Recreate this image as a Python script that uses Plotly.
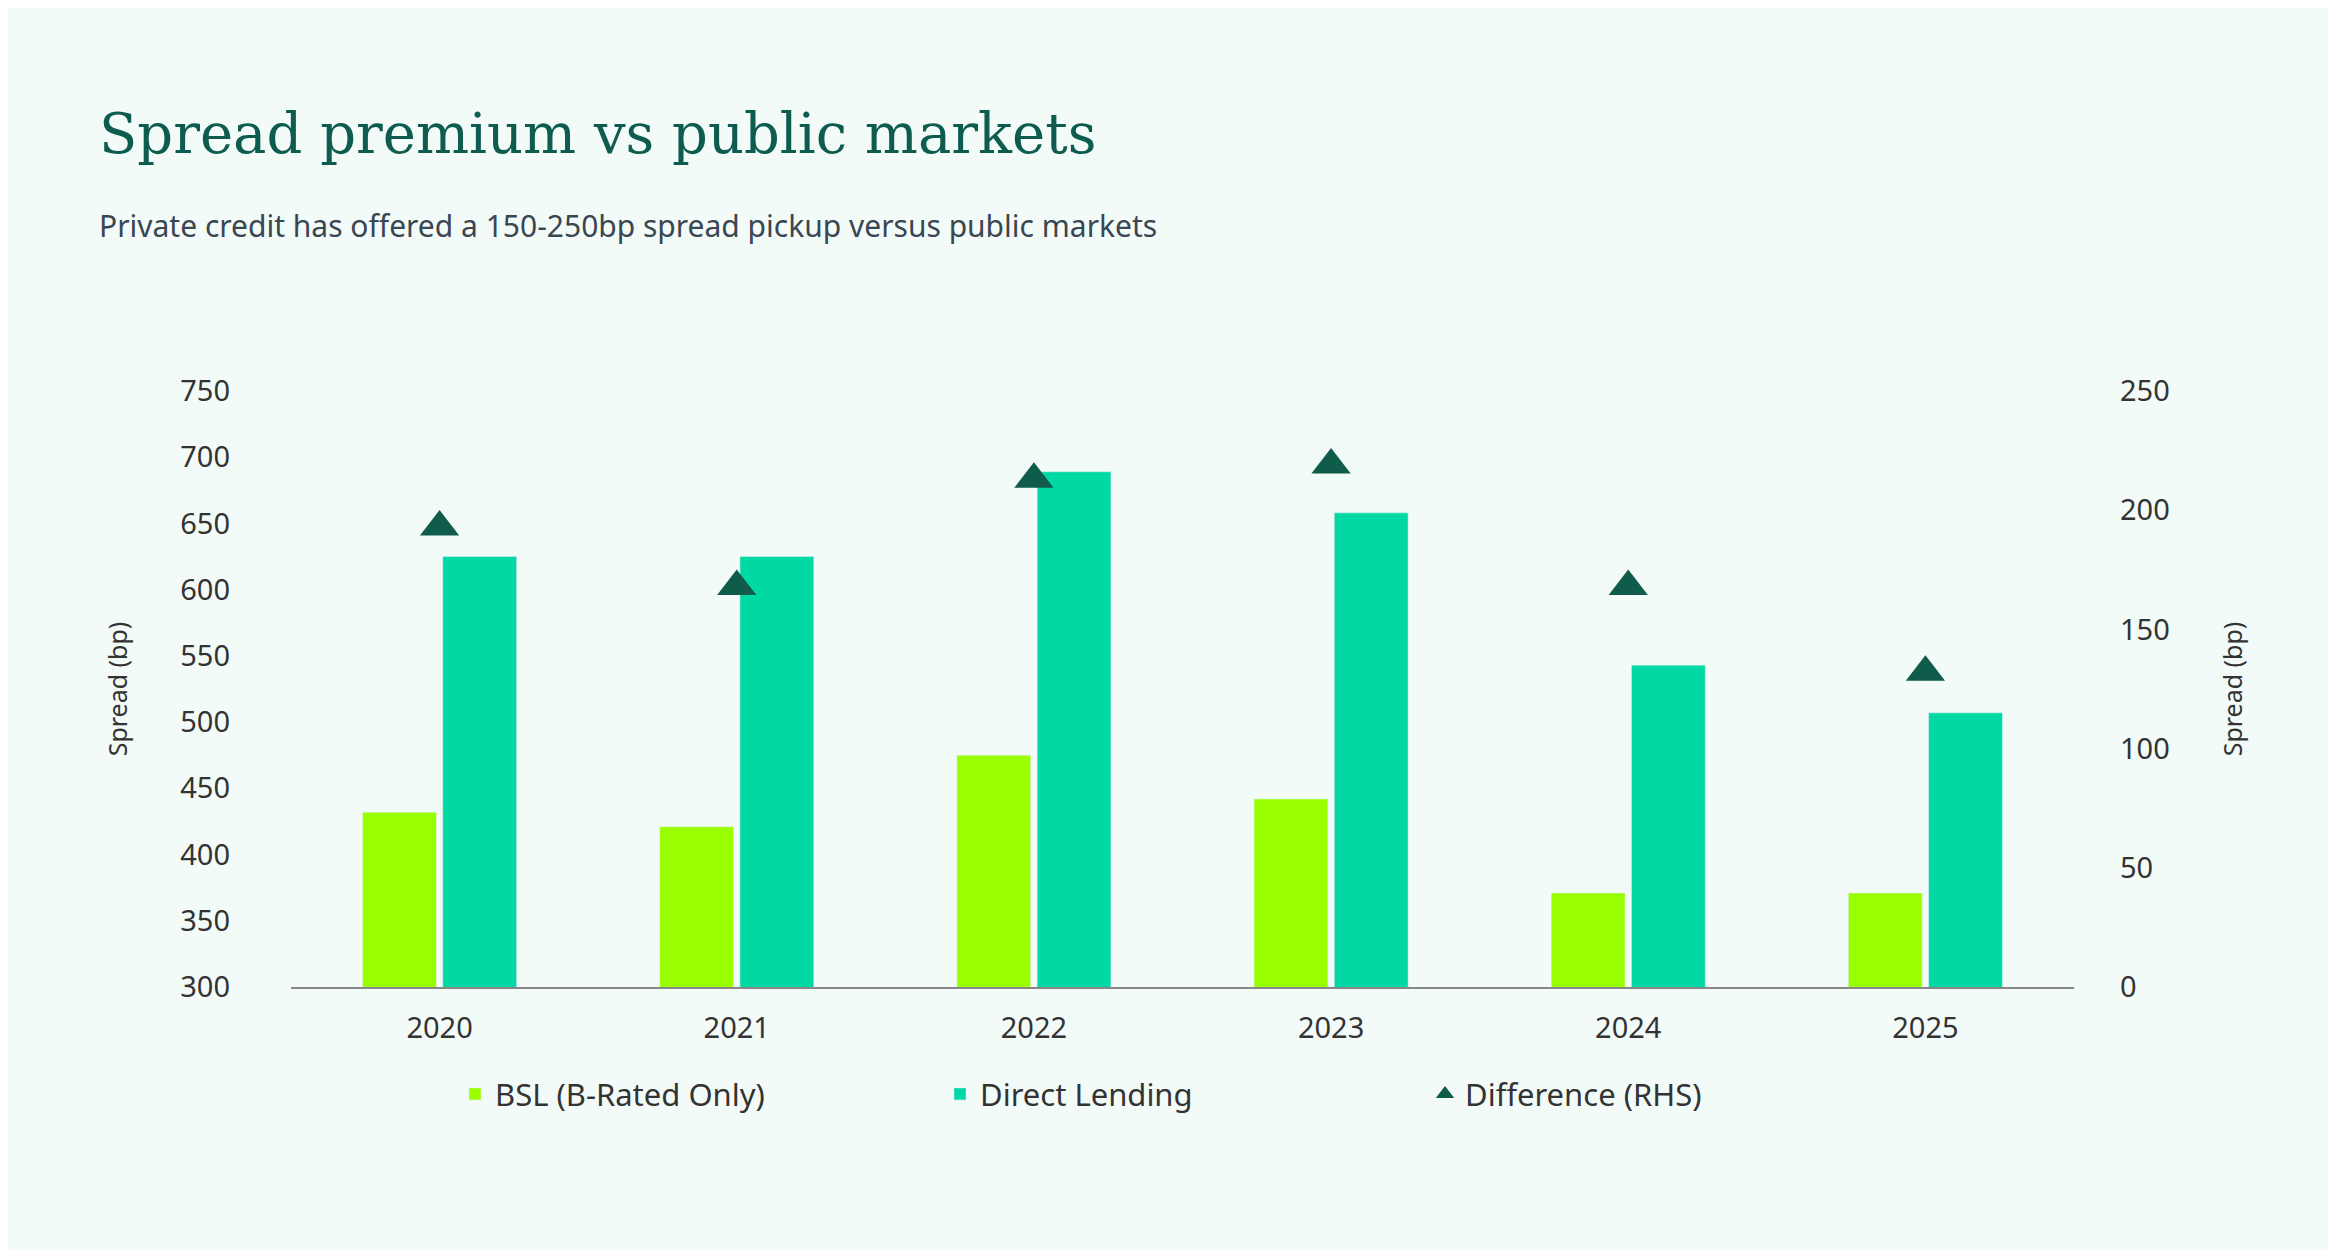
import plotly.graph_objects as go

years = ["2020", "2021", "2022", "2023", "2024", "2025"]
bsl = [432, 421, 475, 442, 371, 371]
direct = [625, 625, 689, 658, 543, 507]
diff = [193, 168, 213, 219, 168, 132]

fig = go.Figure()
fig.add_trace(go.Bar(x=years, y=bsl, name="BSL (B-Rated Only)", marker_color="#99ff00"))
fig.add_trace(go.Bar(x=years, y=direct, name="Direct Lending", marker_color="#00d9a3"))
fig.add_trace(go.Scatter(x=years, y=diff, name="Difference (RHS)", mode="markers", yaxis="y2",
                         marker=dict(symbol="triangle-up", size=34, color="#0f5c4a")))

font = "Noto Sans"
fig.update_layout(
    width=2336, height=1250,
    paper_bgcolor="#f3fbf8", plot_bgcolor="#f3fbf8",
    font=dict(family=font, color="#333", size=28),
    margin=dict(l=283, r=270, t=383, b=271),
    barmode="group", bargap=0.46, bargroupgap=0.08,
    xaxis=dict(showline=True, linecolor="#888", linewidth=2, ticks="", showgrid=False,
               tickfont=dict(size=29), ticklabelstandoff=14),
    yaxis=dict(range=[300, 750], dtick=50, showgrid=False, zeroline=False, tickfont=dict(size=29),
               ticklabelstandoff=60,
               title=dict(text="Spread (bp)", font=dict(size=25), standoff=45)),
    yaxis2=dict(range=[0, 250], dtick=50, overlaying="y", side="right", showgrid=False, zeroline=False,
                tickfont=dict(size=29), ticklabelstandoff=45,
                title=dict(text="Spread (bp)", font=dict(size=25), standoff=55)),
    legend=dict(orientation="h", x=0.5, xanchor="center", y=-0.18, yanchor="middle",
                font=dict(size=31), tracegroupgap=0, entrywidth=440),
    showlegend=True,
)
fig.add_annotation(text="Spread premium vs public markets", xref="paper", yref="paper",
                   x=-0.109, xanchor="left", y=1.0, yanchor="middle", yshift=258, showarrow=False,
                   font=dict(family="DejaVu Serif", size=56, color="#0d5c4f"))
fig.add_annotation(text="Private credit has offered a 150-250bp spread pickup versus public markets",
                   xref="paper", yref="paper", x=-0.109, xanchor="left", y=1.0, yanchor="middle",
                   yshift=166, showarrow=False, font=dict(size=30, color="#3a4652"))
fig.write_html("out.html")
